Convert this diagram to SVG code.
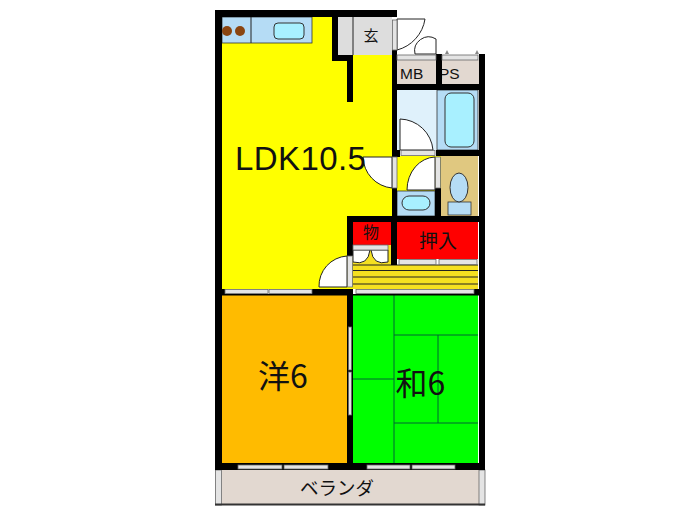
<svg xmlns="http://www.w3.org/2000/svg" width="700" height="525" viewBox="0 0 700 525">
<style>
.w{fill:#000}
.l{stroke:#222;stroke-width:1;fill:none}
.d{fill:#fff;stroke:#222;stroke-width:1}
.g{fill:#e4e4e4;stroke:#666;stroke-width:.8}
.b{fill:#b5dcf5;stroke:#333;stroke-width:.8}
.c{fill:#a8f0ff;stroke:#333;stroke-width:1}
.t{font-family:"Liberation Sans","Noto Sans CJK JP",sans-serif;fill:#111}
.j{font-family:"Noto Sans CJK JP",sans-serif;fill:#111}
.m{stroke:#063;stroke-width:1;fill:none}
</style>
<rect width="700" height="525" fill="#fff"/>
<g id="ldk"><rect x="222" y="17" width="170" height="272" fill="#ff0"/></g>
<g id="kitchen"><rect x="222" y="17" width="90" height="26" class="b"/><line x1="251" y1="17" x2="251" y2="43" class="l"/><circle cx="227" cy="31" r="5" fill="#8a4510"/><circle cx="240" cy="31" r="5" fill="#8a4510"/><rect x="274" y="23" width="30" height="16" rx="4" class="c"/></g>
<g id="genkan"><rect x="338" y="17" width="54" height="38" fill="#ddd"/><line x1="353" y1="17" x2="353" y2="55" class="l"/><text x="371" y="41" font-size="15" text-anchor="middle" class="j">玄</text></g>
<g id="mb"><rect x="397" y="60" width="40" height="24" fill="#e2d8d0"/><text x="400" y="79" font-size="15.500" class="t">MB</text></g>
<g id="ps"><rect x="441" y="60" width="38" height="24" fill="#e2d8d0"/><text x="439" y="79" font-size="15.500" class="t">PS</text></g>
<g id="bath"><rect x="397" y="90" width="40" height="60" fill="#dff1fb"/><rect x="437" y="90" width="41" height="60" class="b"/><rect x="445" y="93" width="29" height="54" rx="6" class="c"/></g>
<g id="wash"><rect x="397" y="156" width="44" height="60" fill="#ff0"/><rect x="397" y="191" width="38" height="25" class="b"/><rect x="402" y="196" width="28" height="14" rx="7" class="c"/></g>
<g id="toilet"><rect x="441" y="156" width="37" height="60" fill="#e0c880"/><rect x="448" y="202" width="23" height="13" class="b"/><ellipse cx="459" cy="187.500" rx="9" ry="14.500" fill="#b5dcf5" stroke="#333"/></g>
<g id="closet"><rect x="353" y="222" width="38" height="23" fill="#f00"/><rect x="397" y="222" width="81" height="37" fill="#f00"/><text x="371" y="238" font-size="16" text-anchor="middle" class="j">物</text><text x="438" y="248" font-size="19" text-anchor="middle" class="j">押入</text></g>
<g id="corridor"><rect x="353" y="245" width="38" height="22" fill="#f5e020"/><rect x="353" y="265" width="125" height="24" fill="#f5e020"/><path d="M353 265H478M353 270.500H478M353 277H478M353 284H478" class="l"/></g>
<g id="west"><rect x="222" y="295" width="125" height="168" fill="#ffbb00"/><text x="283" y="388" font-size="32" text-anchor="middle" class="j">洋6</text></g>
<g id="jp"><rect x="353" y="295" width="125" height="168" fill="#0f0"/><path class="m" d="M394 295V463M394 335H478M353 379H394M394 423H478M438 335V423"/><text x="420.500" y="395" font-size="32" text-anchor="middle" class="j">和6</text></g>
<g id="veranda"><rect x="222" y="470" width="257" height="35" fill="#e2d8d0"/><rect x="215.500" y="470" width="6" height="35" class="g" fill="#fff"/><rect x="479" y="470" width="6" height="35" class="g"/><rect x="215" y="503.500" width="270" height="2" fill="#333"/><text x="337" y="495" font-size="18.500" text-anchor="middle" class="j">ベランダ</text></g>
<g id="walls" class="w">
<rect x="215" y="10" width="7" height="460"/><rect x="215" y="10" width="182" height="7"/><rect x="332" y="17" width="6" height="44"/><rect x="332" y="55" width="21" height="6"/><rect x="347" y="55" width="6" height="47"/><rect x="392" y="50" width="5" height="107"/>
<rect x="392" y="84" width="93" height="6"/><rect x="436" y="54" width="6" height="36"/><rect x="479" y="54" width="6" height="416"/>
<rect x="436" y="150" width="49" height="6"/><rect x="392" y="150" width="8" height="7"/><rect x="392" y="188" width="5" height="77"/><rect x="435" y="188" width="6" height="34"/><rect x="391" y="216" width="94" height="6"/><rect x="347" y="216" width="50" height="6"/><rect x="347" y="216" width="6" height="40"/><rect x="391" y="216" width="6" height="49"/><rect x="478" y="216" width="7" height="6"/>
<rect x="312" y="289" width="41" height="6"/><rect x="215" y="294" width="270" height="1.500"/><rect x="215" y="289" width="10" height="6"/><rect x="474" y="289" width="11" height="6"/><rect x="347" y="295" width="6" height="168"/><rect x="215" y="463" width="270" height="7"/>
</g>
<g id="connectors">
<path class="d" d="M397 19H425A38 38 0 0 1 397 50Z"/>
<path class="d" d="M415 54A14 14 0 0 1 436 39V54Z"/>
<path class="d" d="M400 119A34 34 0 0 1 433 150H400Z"/>
<path class="d" d="M363 157H392V188A32 32 0 0 1 363 157Z"/>
<path class="d" d="M407 190A29 33 0 0 1 435 157V190Z"/>
<path class="d" d="M319 287A30 30 0 0 1 347 256V287Z"/>
<path class="d" d="M353 250H370Q368 266 353 262Z"/>
<path class="d" d="M388 250H371Q373 266 388 262Z"/>
<path d="M445 54L447 50L449 54ZM475 54L477 50L479 54Z" fill="#888"/>
<g class="g"><rect x="225" y="289.500" width="43" height="4"/><rect x="269" y="289.500" width="43" height="4"/><rect x="356" y="289.500" width="118" height="4"/><rect x="348.500" y="327" width="3" height="43"/><rect x="348.500" y="372" width="3" height="43"/><rect x="238" y="465" width="44" height="4"/><rect x="284" y="465" width="44" height="4"/><rect x="367" y="465" width="43" height="4"/><rect x="412" y="465" width="43" height="4"/><rect x="399" y="259.500" width="37" height="5"/><rect x="439" y="259.500" width="38" height="5"/><rect x="397" y="55" width="39" height="5"/><rect x="442" y="55" width="36" height="5"/><rect x="392.500" y="20" width="4.500" height="30"/><rect x="392.500" y="157" width="4.500" height="31"/><rect x="435.500" y="157" width="5" height="31"/><rect x="347.500" y="256" width="5" height="31"/><rect x="353" y="245" width="35" height="5"/><rect x="401" y="150.500" width="34" height="5"/></g>
</g>
<text x="235" y="170" font-size="33" letter-spacing=".4" class="t" id="ldk-label">LDK10.5</text>
</svg>
